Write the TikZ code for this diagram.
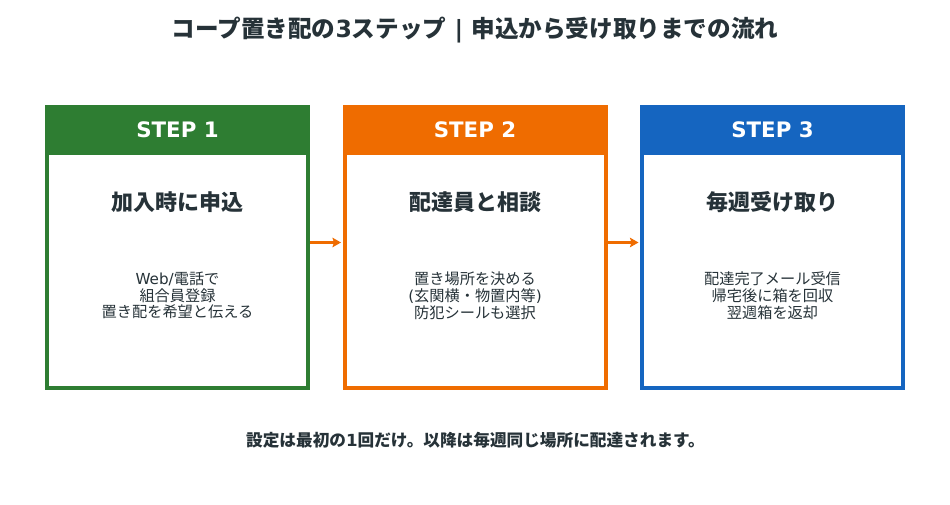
\documentclass[tikz,border=0pt]{standalone}
\usepackage{fontspec}
\setmainfont{Noto Sans CJK JP}
\newfontfamily\latinfont{DejaVu Sans}
\usetikzlibrary{arrows.meta}
\definecolor{ink}{HTML}{263238}
\definecolor{cg}{HTML}{2E7D32}
\definecolor{co}{HTML}{EF6C00}
\definecolor{cb}{HTML}{1565C0}
\tikzset{x=1pt,y=-1pt,
 framebox/.style={draw=#1,line width=4pt,fill=white,minimum width=261pt,minimum height=281pt,inner sep=0pt},
 headbox/.style={fill=#1,minimum width=265pt,minimum height=50pt,inner sep=0pt},
 steptitle/.style={text=white,font=\fontsize{21.3}{24}\bfseries\latinfont,anchor=center},
 subtitle/.style={text=ink,font=\fontsize{22}{24}\bfseries,anchor=center},
 bodytext/.style={text=ink,font=\fontsize{15.2}{16.8}\selectfont,align=center,anchor=center},
 flow/.style={draw=co,line width=2.8pt,shorten >=1.5pt,-{Stealth[length=8.5pt,width=9.5pt,inset=1.5pt]}}}
\begin{document}
\begin{tikzpicture}
\useasboundingbox (0,0) rectangle (950,505);
\fill[white] (0,0) rectangle (950,505);
\node[text=ink,font=\fontsize{23.6}{26}\bfseries] (title) at (475,30) {コープ置き配の{\latinfont 3}ステップ{\latinfont\ |\ }申込から受け取りまでの流れ};
\node[framebox=cg] (f1) at (177.5,247.5) {};
\node[framebox=co] (f2) at (475,247.5) {};
\node[framebox=cb] (f3) at (772.5,247.5) {};
\node[headbox=cg] (b1) at (177.5,130) {};
\node[headbox=co] (b2) at (475,130) {};
\node[headbox=cb] (b3) at (772.5,130) {};
\node[steptitle] (s1) at (177.5,129.5) {STEP 1};
\node[steptitle] (s2) at (475,129.5) {STEP 2};
\node[steptitle] (s3) at (772.5,129.5) {STEP 3};
\node[subtitle] (h1) at (177.5,202) {加入時に申込};
\node[subtitle] (h2) at (475,202) {配達員と相談};
\node[subtitle] (h3) at (772.5,202) {毎週受け取り};
\node[bodytext] (t1) at (177.5,295.5) {{\latinfont Web/}電話で\\組合員登録\\置き配を希望と伝える};
\node[bodytext] (t2) at (475,295.5) {置き場所を決める\\{\latinfont(}玄関横・物置内等{\latinfont)}\\防犯シールも選択};
\node[bodytext] (t3) at (772.5,295.5) {配達完了メール受信\\帰宅後に箱を回収\\翌週箱を返却};
\draw[flow] ([yshift=5pt]f1.east) -- ([yshift=5pt]f2.west);
\draw[flow] ([yshift=5pt]f2.east) -- ([yshift=5pt]f3.west);
\node[text=ink,font=\fontsize{16.65}{20}\bfseries] (note) at (475.5,440) {設定は最初の{\latinfont 1}回だけ。以降は毎週同じ場所に配達されます。};
\end{tikzpicture}
\end{document}
